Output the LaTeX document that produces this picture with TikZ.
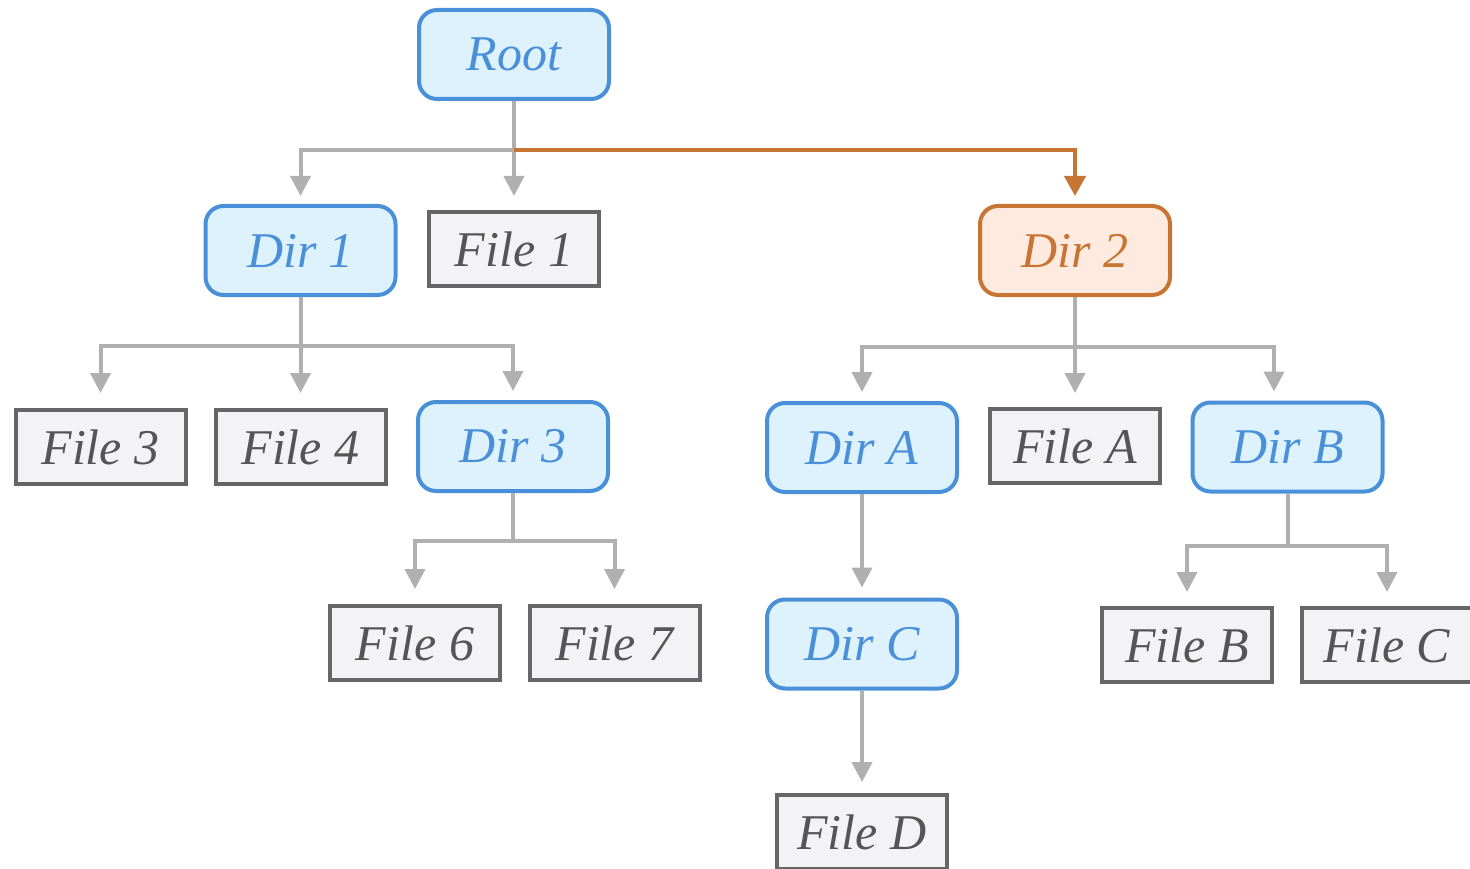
\documentclass[tikz,border=0pt]{standalone}
\usepackage{fontspec}
\setmainfont{Liberation Serif}
\newfontfamily\labelfont{Liberation Serif Italic}
\usetikzlibrary{arrows.meta}
\definecolor{dirline}{HTML}{4A90D9}
\definecolor{dirfill}{HTML}{DDF2FD}
\definecolor{selline}{HTML}{C87533}
\definecolor{selfill}{HTML}{FEEADF}
\definecolor{fileline}{HTML}{666666}
\definecolor{filefill}{HTML}{F3F3F5}
\definecolor{filetext}{HTML}{555555}
\definecolor{edgegray}{HTML}{B0B0B0}
\tikzset{
  base/.style={inner sep=0pt, line width=4pt,
    font=\labelfont\fontsize{50}{56}\selectfont},
  dirbox/.style={base, draw=dirline, fill=dirfill, text=dirline,
    rounded corners=18pt, minimum width=190pt, minimum height=89pt},
  selbox/.style={dirbox, draw=selline, fill=selfill, text=selline},
  filebox/.style={base, draw=fileline, fill=filefill, text=filetext,
    minimum width=170pt, minimum height=74pt},
  gline/.style={draw=edgegray, line width=4pt},
  garrow/.style={gline, -{Triangle[width=20pt,length=20pt]}},
  oarrow/.style={draw=selline, line width=4pt, -{Triangle[width=21pt,length=20pt]}},
}
\begin{document}
\begin{tikzpicture}[x=1pt, y=-1pt]
\useasboundingbox (0,0) rectangle (1470,869);
\clip (0,0) rectangle (1470,869);

% directory tree nodes
\node[dirbox]  (root)  at (514,54.5)  {Root};
\node[dirbox]  (dir1)  at (300.5,250.5) {Dir 1};
\node[filebox] (file1) at (514,249)   {File 1};
\node[selbox]  (dir2)  at (1075,250.5) {Dir 2};
\node[filebox] (file3) at (100.5,447) {File 3};
\node[filebox] (file4) at (300.5,447) {File 4};
\node[dirbox]  (dir3)  at (513,446.5) {Dir 3};
\node[dirbox]  (dirA)  at (862,447.5) {Dir A};
\node[filebox] (fileA) at (1075,446)  {File A};
\node[dirbox]  (dirB)  at (1287.5,447) {Dir B};
\node[filebox] (file6) at (415,643)   {File 6};
\node[filebox] (file7) at (614.5,643) {File 7};
\node[dirbox]  (dirC)  at (862,644)   {Dir C};
\node[filebox] (fileB) at (1187,645)  {File B};
\node[filebox] (fileC) at (1387,645)  {File C};
\node[filebox] (fileD) at (862,832)   {File D};

% branching points
\coordinate (j0) at (514,150);
\coordinate (j1) at (300.5,346);
\coordinate (j3) at (513,541);
\coordinate (j2) at (1075,347);
\coordinate (jB) at (1287.5,546);

% root level
\draw[gline] (root.south) -- (j0);
\draw[garrow] (j0) -| ([yshift=8pt]dir1.north);
\draw[garrow] (j0) -- ([yshift=14pt]file1.north);
\draw[oarrow] (j0) -| ([yshift=8pt]dir2.north);

% Dir 1
\draw[gline] (dir1.south) -- (j1);
\draw[garrow] (j1) -| ([yshift=15pt]file3.north);
\draw[garrow] (j1) -- ([yshift=15pt]file4.north);
\draw[garrow] (j1) -| ([yshift=9pt]dir3.north);

% Dir 3
\draw[gline] (dir3.south) -- (j3);
\draw[garrow] (j3) -| ([yshift=15pt]file6.north);
\draw[garrow] (j3) -| ([yshift=15pt]file7.north);

% Dir 2 (the arrow into Dir B lands a little left of its centre)
\draw[gline] (dir2.south) -- (j2);
\draw[garrow] (j2) -| ([yshift=9pt]dirA.north);
\draw[garrow] (j2) -- ([yshift=14pt]fileA.north);
\draw[garrow] (j2) -| ([xshift=-13.5pt,yshift=9pt]dirB.north);

% Dir A and Dir C
\draw[garrow] (dirA.south) -- ([yshift=10pt]dirC.north);
\draw[garrow] (dirC.south) -- ([yshift=11pt]fileD.north);

% Dir B
\draw[gline] (dirB.south) -- (jB);
\draw[garrow] (jB) -| ([yshift=14pt]fileB.north);
\draw[garrow] (jB) -| ([yshift=14pt]fileC.north);
\end{tikzpicture}
\end{document}
